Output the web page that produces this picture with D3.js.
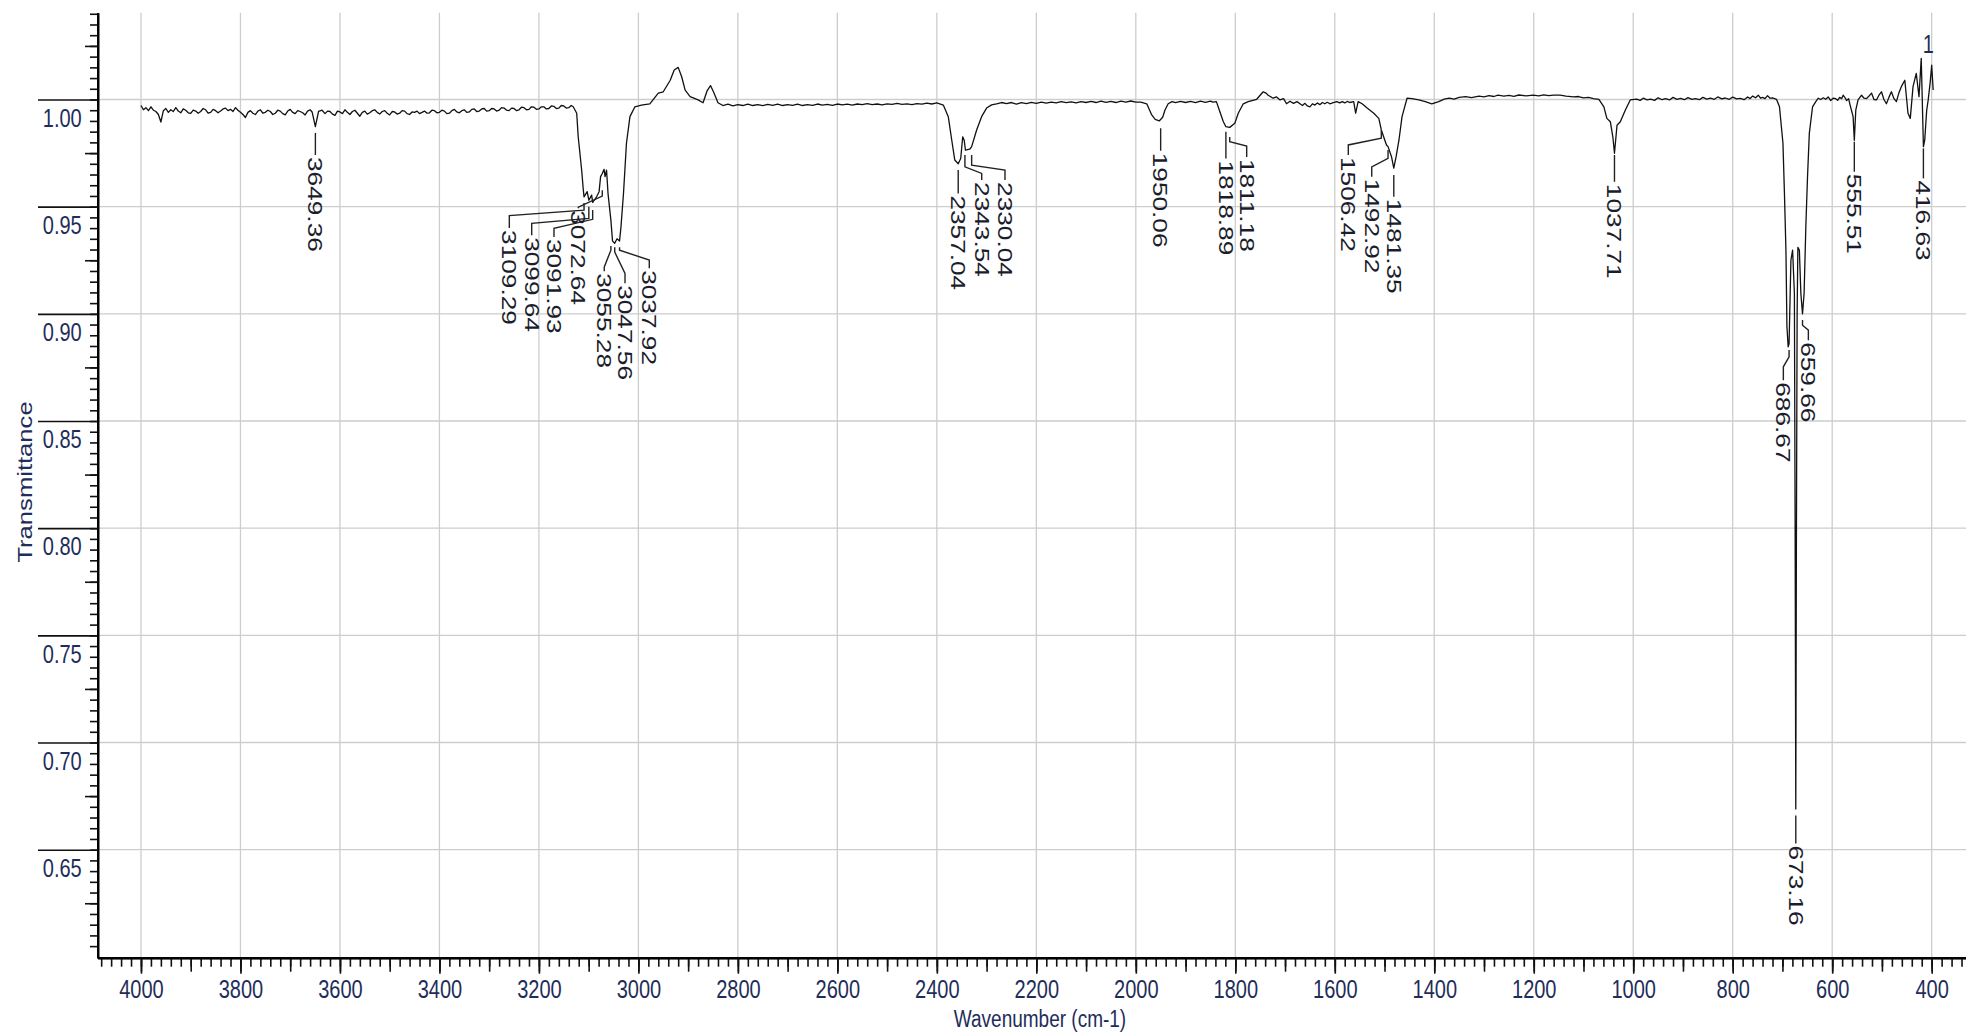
<!DOCTYPE html>
<html>
<head>
<meta charset="utf-8">
<script src="https://cdn.jsdelivr.net/npm/d3@7"></script>
<style>
  body { margin: 0; background: #ffffff; }
  svg { display: block; }
</style>
</head>
<body>
<div id="vis"></div>
<script>
/**
 * DATA
 * */

// [wavenumber cm-1, transmittance]
const spectrum = [
  [4000,.9972],[3995,.9952],[3990,.9962],[3985,.9948],[3980,.9966],[3975,.9950],[3970,.9944],[3965,.9930],[3960,.9895],[3955,.9948],
  [3950,.9958],[3945,.9940],[3940,.9952],[3935,.9944],[3930,.9962],[3925,.9946],[3920,.9938],[3915,.9956],[3910,.9950],[3905,.9938],
  [3900,.9935],[3895,.9950],[3890,.9946],[3885,.9936],[3880,.9944],[3875,.9958],[3870,.9952],[3865,.9936],[3860,.9940],[3855,.9954],
  [3850,.9948],[3845,.9938],[3840,.9946],[3835,.9956],[3830,.9960],[3825,.9948],[3820,.9954],[3815,.9944],[3810,.9962],[3805,.9950],
  [3800,.9940],[3795,.9930],[3790,.9916],[3785,.9940],[3780,.9948],[3775,.9936],[3770,.9930],[3765,.9946],[3760,.9952],[3755,.9936],
  [3750,.9940],[3745,.9950],[3740,.9944],[3735,.9930],[3730,.9936],[3725,.9950],[3720,.9946],[3715,.9934],[3710,.9928],[3705,.9946],
  [3700,.9954],[3695,.9940],[3690,.9934],[3685,.9948],[3680,.9944],[3675,.9938],[3670,.9928],[3665,.9946],[3660,.9952],[3656,.9942],
  [3649.4,.9873],[3643,.9945],[3636,.9950],[3630,.9934],[3625,.9946],[3620,.9944],[3615,.9932],[3610,.9926],[3605,.9946],[3600,.9942],
  [3595,.9934],[3590,.9952],[3585,.9940],[3580,.9930],[3575,.9944],[3570,.9950],[3565,.9936],[3560,.9922],[3555,.9940],[3550,.9946],
  [3545,.9932],[3540,.9938],[3535,.9948],[3530,.9952],[3525,.9940],[3520,.9932],[3515,.9944],[3510,.9948],[3505,.9936],[3500,.9928],
  [3495,.9944],[3490,.9942],[3485,.9932],[3480,.9936],[3475,.9948],[3470,.9946],[3465,.9934],[3460,.9930],[3455,.9942],[3450,.9940],
  [3445,.9946],[3440,.9934],[3435,.9940],[3430,.9946],[3425,.9936],[3420,.9938],[3415,.9950],[3410,.9948],[3405,.9938],[3400,.9940],
  [3395,.9950],[3390,.9946],[3385,.9934],[3380,.9936],[3375,.9948],[3370,.9954],[3365,.9942],[3360,.9938],[3355,.9948],[3350,.9952],
  [3345,.9940],[3340,.9942],[3335,.9954],[3330,.9956],[3325,.9944],[3320,.9946],[3315,.9956],[3310,.9958],[3305,.9946],[3300,.9948],
  [3295,.9958],[3290,.9956],[3285,.9946],[3280,.9950],[3275,.9962],[3270,.9960],[3265,.9950],[3260,.9948],[3255,.9960],[3250,.9958],
  [3245,.9948],[3240,.9952],[3235,.9964],[3230,.9962],[3225,.9952],[3220,.9954],[3215,.9966],[3210,.9964],[3205,.9954],[3200,.9956],
  [3195,.9966],[3190,.9966],[3185,.9956],[3180,.9958],[3175,.9970],[3170,.9968],[3165,.9958],[3160,.9960],[3155,.9972],[3150,.9970],
  [3145,.9960],[3140,.9962],[3135,.9972],[3131,.9966],
  // C-H stretch cluster
  [3124,.9936],[3121,.9826],[3114,.967],[3111,.9585],[3109.3,.9546],[3103,.957],[3099.6,.953],[3094,.9554],[3091.9,.952],[3084,.9546],
  [3079,.957],[3076,.964],[3072.6,.9655],[3069,.9674],[3067,.964],[3064,.967],[3061,.956],[3055.3,.9437],[3052,.934],[3047.6,.9329],
  [3043,.935],[3037.9,.934],[3035,.9406],[3030,.956],[3024,.9796],[3017,.992],[3007,.9966],[2994,.9974],[2977,.998],[2960,1.003],
  [2950,1.0036],[2936,1.009],[2928,1.0138],[2920,1.015],[2913,1.0106],[2906,1.0044],[2896,1.0013],[2880,.9998],[2870,.9985],[2862,1.004],
  [2855,1.0065],[2848,1.003],[2840,.9985],[2830,.9972],[2820,.9978],[2810,.9970],[2800,.9976],
  [2790,.9972],[2780,.9978],[2770,.9972],[2760,.9976],[2750,.9971],[2740,.9977],[2730,.9973],[2720,.9978],[2710,.9972],[2700,.9976],
  [2690,.9973],[2680,.9978],[2670,.9972],[2660,.9976],[2650,.9973],[2640,.9979],[2630,.9974],[2620,.9977],[2610,.9973],[2600,.9979],
  [2590,.9975],[2580,.9978],[2570,.9974],[2560,.9979],[2550,.9976],[2540,.9981],[2530,.9976],[2520,.9979],[2510,.9975],[2500,.998],
  [2490,.9977],[2480,.9982],[2470,.9977],[2460,.998],[2450,.9976],[2440,.9981],[2430,.9978],[2420,.9983],[2410,.9979],[2400,.9984],
  // CO2 doublet
  [2387,.9974],[2377,.992],[2370,.981],[2364,.9718],[2357,.970],[2352,.9725],[2348,.9826],[2345,.981],[2342.5,.9764],[2334,.9768],
  [2330,.978],[2320,.9858],[2310,.992],[2300,.996],[2290,.9975],[2280,.998],[2270,.9986],[2260,.9981],
  [2250,.9986],[2240,.9979],[2230,.9985],[2220,.9981],[2210,.9987],[2200,.9982],[2190,.9988],[2180,.9983],[2170,.9988],[2160,.9984],
  [2150,.999],[2140,.9985],[2130,.9989],[2120,.9984],[2110,.999],[2100,.9986],[2090,.9991],[2080,.9986],[2070,.9992],[2060,.9987],
  [2050,.9991],[2040,.9986],[2030,.9992],[2020,.9988],[2010,.9993],[2000,.9988],[1990,.9988],[1978,.998],[1968,.9928],[1961,.9907],
  [1953,.990],[1946,.9917],[1941.5,.995],[1935,.998],[1927,.9990],[1920,.9985],[1910,.9991],[1900,.9986],[1890,.9991],[1880,.9985],
  [1870,.9992],[1860,.9987],[1850,.9992],[1845,.9988],[1838,.999],[1831,.9943],[1824,.9896],
  [1818.9,.9873],[1811.2,.987],[1801,.9889],[1794,.9936],[1784,.998],[1774,.999],[1757,1.0001],[1744,1.0036],[1738,1.003],[1734,1.002],
  [1724,1.0006],[1717,1.0012],[1710,.9998],[1703,1.0004],[1697,.998],[1690,.9992],[1683,.9982],[1676,.999],[1670,.998],[1665,.9972],
  [1660,.9982],[1655,.9970],[1650,.9966],[1645,.9980],[1640,.9974],[1635,.9984],[1630,.9976],[1625,.9986],[1620,.998],[1615,.9987],
  [1610,.998],[1603,.9985],[1596,.9990],[1590,.9984],[1585,.9990],[1580,.9984],[1575,.9991],[1570,.9986],[1562,.999],
  [1558,.9936],[1553,.999],[1545,.998],[1535,.996],[1521.6,.9936],[1511.5,.9912],[1506.4,.9858],[1499.4,.981],[1496,.9788],[1492.9,.978],
  [1486,.9733],[1481.4,.968],[1476.7,.9733],[1471,.981],[1464.8,.992],[1454.7,1.0006],[1444.6,1.0004],[1431,.9998],[1418,.999],[1405,.998],
  [1391,.999],[1380,1.0002],[1370,1.0006],[1360,1.0002],[1350,1.001],[1337,1.0013],[1325,1.0009],[1310,1.0016],[1300,1.0012],[1290,1.0018],
  [1280,1.0014],[1272,1.002],[1260,1.0016],[1250,1.0019],[1240,1.0015],[1230,1.0021],[1215,1.0017],[1201,1.002],[1190,1.0017],[1180,1.0022],
  [1170,1.0018],[1160,1.002],[1147,1.002],[1135,1.0016],[1120,1.0012],[1110,1.0014],[1100,1.0008],[1090,1.0010],[1080,1.0004],[1069,1.0001],
  [1059,.9966],[1053,.9912],[1046,.9896],[1041,.9826],[1037.7,.9749],[1032.6,.988],[1026,.9896],[1016,.995],[1006,.9998],[993,1.0002],
  [986,.9996],[980,1.0006],[972,.9998],[965,1.0002],[957,.9996],[950,1.0008],[942,.9999],[935,1.0004],[927,.9998],[920,1.001],
  [912,1.0001],[905,1.0005],[897,.9999],[890,1.0009],[882,1.0001],[875,1.0004],[867,.9999],[860,1.001],[852,1.0002],[845,1.0006],
  [837,1.0001],[830,1.0012],[822,1.0003],[815,1.0007],[807,1.0001],[800,1.0011],[792,1.0003],[785,1.0005],[777,.9999],[770,1.0012],
  [765,1.0004],[760,1.0016],[754,1.0008],[748.6,1.002],[744,1.0006],[740,1.001],[735,1.0004],[730,1.0018],[725,1.0006],[720,1.0008],
  // the big band
  [712,1.0001],[706,.9966],[699,.9796],[696,.9562],[693,.9297],[691,.894],[688.5,.8846],[686.7,.886],[683,.925],[679.6,.9297],
  [676,.9095],[674.5,.80],[673.2,.669],[672,.79],[670.5,.90],[669,.931],[666,.9297],[663,.9095],[659.7,.900],[656.5,.9095],
  [653,.9406],[649.6,.964],[646,.9842],[639.5,.9966],[633,.999],[628,1.0006],[623,1.0],[618,1.0008],[613,1.0001],[608,1.0012],
  [603,.9995],[598,1.0006],[593,1.0004],[589,.9996],[585,1.001],[581,1.0004],[578,1.002],[574,1.0008],[571,.9995],[567,1.0004],
  [564.6,.998],[558,.992],[555.5,.981],[552.6,.995],[548,.9998],[541,1.002],[536,1.0006],[531,1.0004],[526,1.0016],[521,1.003],
  [516,1.0],[511,.9998],[506,1.002],[501,1.0036],[496,1.0],[491,.998],[486,1.001],[481,1.0036],[476,1.0005],[471,.999],
  [466,1.003],[461,1.006],[454,1.009],[447.6,.9936],[443,.9912],[437.5,1.006],[431,1.0122],[425.5,1.0013],[421,1.0192],[416.6,.978],
  [414,.981],[410,.995],[407,.9998],[403,1.008],[400,1.016],[397,1.0044]
];

const xTickValues = [4000, 3800, 3600, 3400, 3200, 3000, 2800, 2600, 2400, 2200, 2000, 1800, 1600, 1400, 1200, 1000, 800, 600, 400];
const yTickValues = [0.65, 0.70, 0.75, 0.80, 0.85, 0.90, 0.95, 1.00];

const peakNames = ["3649.36", "3109.29", "3099.64", "3091.93", "3072.64", "3055.28", "3047.56", "3037.92",
  "2357.04", "2343.54", "2330.04", "1950.06", "1818.89", "1811.18", "1506.42", "1492.92", "1481.35",
  "1037.71", "686.67", "673.16", "659.66", "555.51", "416.63"];
const peakWn = peakNames.map(Number);

// cursor readout in the top right corner
const cornerText = "1";

/**
 * LABEL LAYOUT (data units): column of the label, leader start, two bends, leader end
 * */
const labelWn   = [3649.36, 3259.5, 3214.5, 3169.7, 3120.8, 3068.6, 3026.9, 2978.1, 2357.04, 2309.8, 2263.0, 1950.06, 1818.89, 1777.1, 1572.8, 1525.7, 1481.35, 1037.71, 698.2, 673.16, 647.9, 555.51, 416.63];
const leadStart = [.9844, .9517, .9500, .9484, .9577, .9316, .9311, .9311, .9671, .9741, .9741, .9866, .9850, .9825, .9858, .9764, .9648, .9741, .8831, .6660, .8971, .9803, .9772];
const bendA     = [null, .9484, .9445, .9441, .9549, .9297, .9288, .9297, null, .9686, .9694, null, null, .9803, .9819, .9725, null, null, .8799, null, .8947, null, null];
const bendB     = [null, .9458, .9422, .9399, .9498, .9219, .9189, .9251, null, .9655, .9671, null, null, .9783, .9788, .9686, null, null, .8753, null, .8924, null, null];
const leadEnd   = [.9741, .9400, .9367, .9359, .9493, .9199, .9143, .9213, .9562, .9624, .9624, .9761, .9725, .9732, .9741, .9640, .9546, .9616, .8690, .6529, .8877, .9663, .9632];
const cornerWn = 407, cornerT = 1.0217;

/**
 * CONSTANTS AND GLOBALS
 * */
const width = 1966, height = 1033;
const STRETCH = 1.28; // the scan is stretched vertically, glyphs included
const font = '"Liberation Sans", Arial, Helvetica, sans-serif';
const axisInk = "#1e2d5a";
const peakInk = "#1b1d2c";

const x = d3.scaleLinear().domain([4087, 330]).range([97.7, 1966.5]);
const y = d3.scaleLinear().domain([1.0405, 0.5996]).range([12.7, 957.7]);

const stretched = (px, py, rot) => `translate(${px},${py}) scale(1,${STRETCH})` + (rot ? ` rotate(${rot})` : "");

const svg = d3.select("#vis")
  .append("svg")
  .attr("width", width)
  .attr("height", height)
  .style("background", "#fff");

///////// GRID /////////
svg.append("g")
  .selectAll("line")
  .data(xTickValues)
  .join("line")
  .attr("x1", d => x(d))
  .attr("x2", d => x(d))
  .attr("y1", y.range()[0])
  .attr("y2", y.range()[1])
  .attr("stroke", "#cdcdcd")
  .attr("stroke-width", 1.3);

svg.append("g")
  .selectAll("line")
  .data(yTickValues)
  .join("line")
  .attr("x1", x.range()[0])
  .attr("x2", width)
  .attr("y1", d => y(d))
  .attr("y2", d => y(d))
  .attr("stroke", "#cdcdcd")
  .attr("stroke-width", 1.3);

///////// AXES /////////
const yMinor = d3.range(121, 209).map(i => i / 200);       // every 0.005
const yMid = d3.range(12, 21).map(i => i * 0.05 + 0.025);   // halfway marks
const xMinor = d3.range(340, 4100, 20);
const xMid = d3.range(400, 4100, 100);

function styleAxis(g) {
  g.attr("font-family", font).attr("font-size", 20);
  g.select(".domain").attr("stroke", "#000").attr("stroke-width", 2);
  g.selectAll(".tick line").attr("stroke", "#111").attr("stroke-width", 1.6);
}

const yAxisG = svg.append("g").attr("transform", `translate(${x.range()[0]},0)`);
yAxisG.append("g").call(d3.axisLeft(y).tickValues(yMinor).tickSize(7.7).tickSizeOuter(0).tickFormat("")).call(styleAxis);
yAxisG.append("g").call(d3.axisLeft(y).tickValues(yMid).tickSize(12.7).tickSizeOuter(0).tickFormat("")).call(styleAxis);
yAxisG.append("g")
  .call(d3.axisLeft(y).tickValues(yTickValues).tickSize(59.7).tickSizeOuter(0).tickFormat(d3.format(".2f")))
  .call(styleAxis)
  .selectAll("text")
  .attr("x", -16)
  .attr("dy", null)
  .attr("fill", axisInk)
  .attr("transform", stretched(0, 26.8));

const xAxisG = svg.append("g").attr("transform", `translate(0,${y.range()[1]})`);
xAxisG.append("g").call(d3.axisBottom(x).tickValues(xMinor).tickSize(9).tickSizeOuter(0).tickFormat("")).call(styleAxis);
xAxisG.append("g").call(d3.axisBottom(x).tickValues(xMid).tickSize(14).tickSizeOuter(0).tickFormat("")).call(styleAxis);
xAxisG.append("g")
  .call(d3.axisBottom(x).tickValues(xTickValues).tickSize(16).tickSizeOuter(0).tickFormat(d3.format("d")))
  .call(styleAxis)
  .selectAll("text")
  .attr("y", 0)
  .attr("dy", null)
  .attr("fill", axisInk)
  .attr("transform", stretched(0, 40.3));

// axis titles
svg.append("text")
  .attr("transform", stretched(32, 482, -90))
  .attr("text-anchor", "middle")
  .attr("font-family", font)
  .attr("font-size", 20)
  .attr("fill", axisInk)
  .text("Transmittance");

svg.append("text")
  .attr("transform", stretched(1040, 1027))
  .attr("text-anchor", "middle")
  .attr("font-family", font)
  .attr("font-size", 19)
  .attr("fill", axisInk)
  .text("Wavenumber (cm-1)");

///////// SPECTRUM /////////
const line = d3.line()
  .x(d => x(d[0]))
  .y(d => y(d[1]));

svg.append("path")
  .datum(spectrum)
  .attr("d", line)
  .attr("fill", "none")
  .attr("stroke", "#111")
  .attr("stroke-width", 1.3)
  .attr("stroke-linejoin", "round");

///////// PEAK LABELS /////////
const leader = d3.line();
peakNames.forEach((name, i) => {
  const px = x(peakWn[i]);
  const lx = x(labelWn[i]);
  const pts = bendA[i] === null
    ? [[px, y(leadStart[i])], [px, y(leadEnd[i])]]
    : [[px, y(leadStart[i])], [px, y(bendA[i])], [lx, y(bendB[i])], [lx, y(leadEnd[i])]];

  svg.append("path")
    .attr("d", leader(pts))
    .attr("fill", "none")
    .attr("stroke", "#222")
    .attr("stroke-width", 1.4);

  svg.append("text")
    .attr("transform", stretched(lx, y(leadEnd[i]) + 2, 90))
    .attr("dy", "0.35em")
    .attr("font-family", font)
    .attr("font-size", 20.5)
    .attr("fill", peakInk)
    .text(name);
});

svg.append("text")
  .attr("transform", stretched(x(cornerWn), y(cornerT)))
  .attr("text-anchor", "middle")
  .attr("font-family", font)
  .attr("font-size", 20)
  .attr("fill", axisInk)
  .text(cornerText);
</script>
</body>
</html>
